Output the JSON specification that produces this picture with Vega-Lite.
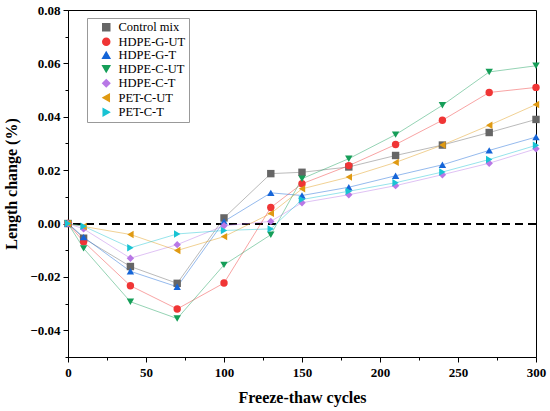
{
  "$schema": "https://vega.github.io/schema/vega-lite/v6.json",
  "width": 468,
  "height": 347,
  "autosize": {"type": "none"},
  "padding": {"left": 68, "top": 10, "right": 14, "bottom": 54},
  "background": "white",
  "config": {
    "view": {"stroke": "black", "strokeWidth": 1},
    "axis": {
      "domainColor": "black", "tickColor": "black", "grid": false,
      "labelFont": "Liberation Serif", "labelFontWeight": "bold", "labelFontSize": 13, "labelColor": "black",
      "titleFont": "Liberation Serif", "titleFontWeight": "bold", "titleFontSize": 16, "titleColor": "black",
      "labelFlush": false, "labelOverlap": false
    },
    "legend": {
      "labelFont": "Liberation Serif", "labelFontSize": 12, "labelColor": "black"
    }
  },
  "data": {"values": [
    {"series": "Control mix", "cycles": 0, "change": 0},
    {"series": "Control mix", "cycles": 10, "change": -0.0055},
    {"series": "Control mix", "cycles": 40, "change": -0.0161},
    {"series": "Control mix", "cycles": 70, "change": -0.0224},
    {"series": "Control mix", "cycles": 100, "change": 0.0021},
    {"series": "Control mix", "cycles": 130, "change": 0.0187},
    {"series": "Control mix", "cycles": 150, "change": 0.0192},
    {"series": "Control mix", "cycles": 180, "change": 0.0212},
    {"series": "Control mix", "cycles": 210, "change": 0.0255},
    {"series": "Control mix", "cycles": 240, "change": 0.0294},
    {"series": "Control mix", "cycles": 270, "change": 0.0341},
    {"series": "Control mix", "cycles": 300, "change": 0.039},
    {"series": "HDPE-G-UT", "cycles": 0, "change": 0},
    {"series": "HDPE-G-UT", "cycles": 10, "change": -0.0068},
    {"series": "HDPE-G-UT", "cycles": 40, "change": -0.0233},
    {"series": "HDPE-G-UT", "cycles": 70, "change": -0.032},
    {"series": "HDPE-G-UT", "cycles": 100, "change": -0.0223},
    {"series": "HDPE-G-UT", "cycles": 130, "change": 0.006},
    {"series": "HDPE-G-UT", "cycles": 150, "change": 0.0149},
    {"series": "HDPE-G-UT", "cycles": 180, "change": 0.0217},
    {"series": "HDPE-G-UT", "cycles": 210, "change": 0.0296},
    {"series": "HDPE-G-UT", "cycles": 240, "change": 0.0387},
    {"series": "HDPE-G-UT", "cycles": 270, "change": 0.0491},
    {"series": "HDPE-G-UT", "cycles": 300, "change": 0.051},
    {"series": "HDPE-G-T", "cycles": 0, "change": 0},
    {"series": "HDPE-G-T", "cycles": 10, "change": -0.0051},
    {"series": "HDPE-G-T", "cycles": 40, "change": -0.0179},
    {"series": "HDPE-G-T", "cycles": 70, "change": -0.0237},
    {"series": "HDPE-G-T", "cycles": 100, "change": 0.0008},
    {"series": "HDPE-G-T", "cycles": 130, "change": 0.0115},
    {"series": "HDPE-G-T", "cycles": 150, "change": 0.0105},
    {"series": "HDPE-G-T", "cycles": 180, "change": 0.0136},
    {"series": "HDPE-G-T", "cycles": 210, "change": 0.0179},
    {"series": "HDPE-G-T", "cycles": 240, "change": 0.022},
    {"series": "HDPE-G-T", "cycles": 270, "change": 0.0274},
    {"series": "HDPE-G-T", "cycles": 300, "change": 0.0324},
    {"series": "HDPE-C-UT", "cycles": 0, "change": 0},
    {"series": "HDPE-C-UT", "cycles": 10, "change": -0.0093},
    {"series": "HDPE-C-UT", "cycles": 40, "change": -0.0293},
    {"series": "HDPE-C-UT", "cycles": 70, "change": -0.0356},
    {"series": "HDPE-C-UT", "cycles": 100, "change": -0.0155},
    {"series": "HDPE-C-UT", "cycles": 130, "change": -0.0042},
    {"series": "HDPE-C-UT", "cycles": 150, "change": 0.0168},
    {"series": "HDPE-C-UT", "cycles": 180, "change": 0.0243},
    {"series": "HDPE-C-UT", "cycles": 210, "change": 0.0333},
    {"series": "HDPE-C-UT", "cycles": 240, "change": 0.0443},
    {"series": "HDPE-C-UT", "cycles": 270, "change": 0.0568},
    {"series": "HDPE-C-UT", "cycles": 300, "change": 0.0591},
    {"series": "HDPE-C-T", "cycles": 0, "change": 0},
    {"series": "HDPE-C-T", "cycles": 10, "change": -0.002},
    {"series": "HDPE-C-T", "cycles": 40, "change": -0.013},
    {"series": "HDPE-C-T", "cycles": 70, "change": -0.0079},
    {"series": "HDPE-C-T", "cycles": 100, "change": -0.0008},
    {"series": "HDPE-C-T", "cycles": 130, "change": 0.0008},
    {"series": "HDPE-C-T", "cycles": 150, "change": 0.0078},
    {"series": "HDPE-C-T", "cycles": 180, "change": 0.0108},
    {"series": "HDPE-C-T", "cycles": 210, "change": 0.0142},
    {"series": "HDPE-C-T", "cycles": 240, "change": 0.0183},
    {"series": "HDPE-C-T", "cycles": 270, "change": 0.0226},
    {"series": "HDPE-C-T", "cycles": 300, "change": 0.028},
    {"series": "PET-C-UT", "cycles": 0, "change": 0},
    {"series": "PET-C-UT", "cycles": 10, "change": -0.0011},
    {"series": "PET-C-UT", "cycles": 40, "change": -0.0041},
    {"series": "PET-C-UT", "cycles": 70, "change": -0.0101},
    {"series": "PET-C-UT", "cycles": 100, "change": -0.0049},
    {"series": "PET-C-UT", "cycles": 130, "change": 0.0038},
    {"series": "PET-C-UT", "cycles": 150, "change": 0.013},
    {"series": "PET-C-UT", "cycles": 180, "change": 0.0174},
    {"series": "PET-C-UT", "cycles": 210, "change": 0.0229},
    {"series": "PET-C-UT", "cycles": 240, "change": 0.0294},
    {"series": "PET-C-UT", "cycles": 270, "change": 0.0368},
    {"series": "PET-C-UT", "cycles": 300, "change": 0.0446},
    {"series": "PET-C-T", "cycles": 0, "change": 0},
    {"series": "PET-C-T", "cycles": 10, "change": -0.001},
    {"series": "PET-C-T", "cycles": 40, "change": -0.0091},
    {"series": "PET-C-T", "cycles": 70, "change": -0.0039},
    {"series": "PET-C-T", "cycles": 100, "change": -0.0026},
    {"series": "PET-C-T", "cycles": 130, "change": -0.002},
    {"series": "PET-C-T", "cycles": 150, "change": 0.009},
    {"series": "PET-C-T", "cycles": 180, "change": 0.0121},
    {"series": "PET-C-T", "cycles": 210, "change": 0.0153},
    {"series": "PET-C-T", "cycles": 240, "change": 0.0193},
    {"series": "PET-C-T", "cycles": 270, "change": 0.024},
    {"series": "PET-C-T", "cycles": 300, "change": 0.0293}
  ]},
  "resolve": {"axis": {"x": "independent", "y": "independent"}},
  "layer": [
    {
      "mark": {"type": "rule", "color": "black", "strokeWidth": 1.3, "strokeDash": [8, 5]},
      "encoding": {
        "y": {
          "datum": 0, "type": "quantitative",
          "scale": {"domain": [-0.05, 0.08], "nice": false, "zero": false},
          "axis": {"orient": "left", "values": [-0.05, -0.03, -0.01, 0.01, 0.03, 0.05, 0.07], "tickSize": 3, "labels": false, "domain": false, "title": null}
        }
      }
    },
    {
      "mark": {"type": "line", "strokeWidth": 1, "strokeOpacity": 0.45},
      "encoding": {
        "x": {
          "field": "cycles", "type": "quantitative",
          "scale": {"domain": [0, 300], "nice": false, "zero": false},
          "axis": {"orient": "bottom", "values": [25, 75, 125, 175, 225, 275], "tickSize": 3, "labels": false, "domain": false, "title": null}
        },
        "y": {"field": "change", "type": "quantitative", "scale": {"domain": [-0.05, 0.08], "nice": false, "zero": false}, "axis": null},
        "color": {"field": "series", "type": "nominal"},
        "detail": {"field": "series"}
      }
    },
    {
      "mark": {"type": "point", "filled": true, "opacity": 1, "size": 55},
      "encoding": {
        "x": {
          "field": "cycles", "type": "quantitative",
          "scale": {"domain": [0, 300], "nice": false, "zero": false},
          "axis": {"orient": "bottom", "values": [0, 50, 100, 150, 200, 250, 300], "format": "d", "tickSize": 5, "labelPadding": 4, "titlePadding": 10, "title": "Freeze-thaw cycles", "labelFont": "Liberation Serif", "titleFont": "Liberation Serif"}
        },
        "y": {
          "field": "change", "type": "quantitative",
          "scale": {"domain": [-0.05, 0.08], "nice": false, "zero": false},
          "axis": {"orient": "left", "values": [-0.04, -0.02, 0, 0.02, 0.04, 0.06, 0.08], "format": ".2f", "tickSize": 5, "labelPadding": 3, "titlePadding": 10, "title": "Length change (%)", "labelFont": "Liberation Serif", "titleFont": "Liberation Serif"}
        },
        "color": {
          "field": "series", "type": "nominal",
          "scale": {
            "domain": ["Control mix", "HDPE-G-UT", "HDPE-G-T", "HDPE-C-UT", "HDPE-C-T", "PET-C-UT", "PET-C-T"],
            "range": ["#666666", "#f03535", "#1565d8", "#159e58", "#b878e6", "#e09a12", "#18c3d3"]
          },
          "legend": {
            "title": null, "orient": "none", "legendX": 19, "legendY": 8,
            "strokeColor": "#999999", "padding": 3, "rowPadding": 0.5,
            "labelFont": "Liberation Serif", "labelFontSize": 12.5, "labelColor": "black",
            "symbolSize": 49, "symbolOffset": 10, "labelOffset": 6
          }
        },
        "shape": {
          "field": "series", "type": "nominal",
          "scale": {
            "domain": ["Control mix", "HDPE-G-UT", "HDPE-G-T", "HDPE-C-UT", "HDPE-C-T", "PET-C-UT", "PET-C-T"],
            "range": ["square", "circle", "triangle-up", "triangle-down", "diamond", "triangle-left", "triangle-right"]
          }
        }
      }
    }
  ]
}
